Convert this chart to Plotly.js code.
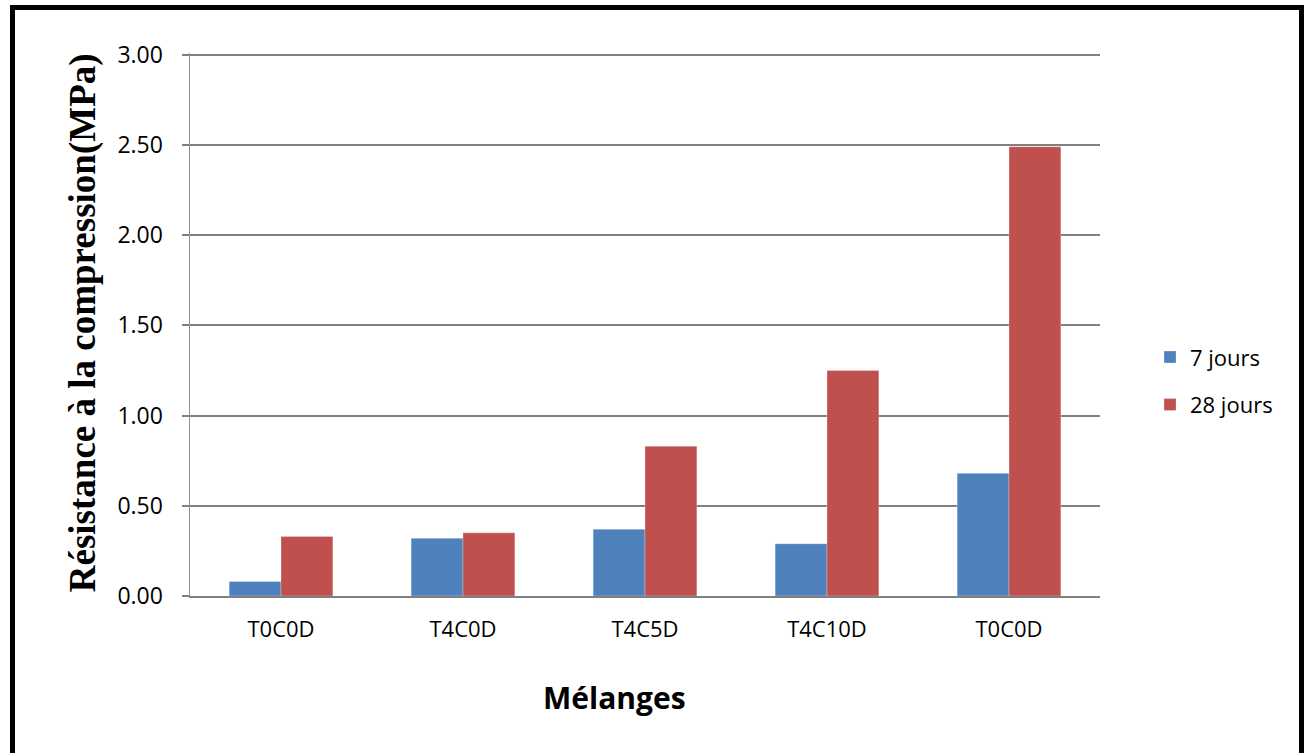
<!DOCTYPE html>
<html>
<head>
<meta charset="utf-8">
<script src="https://cdn.plot.ly/plotly-3.0.1.min.js"></script>
<style>
  html, body { margin: 0; padding: 0; background: #fff; }
  #chart { width: 1304px; height: 753px; }
</style>
</head>
<body>
<div id="chart"></div>
<script>
const categories = ["T0C0D", "T4C0D", "T4C5D", "T4C10D", "T0C0D"];
const seriesNames = ["7 jours", "28 jours"];
const jours7 = [0.08, 0.32, 0.37, 0.29, 0.68];
const jours28 = [0.33, 0.35, 0.83, 1.25, 2.49];
const yTickVals = [0, 0.5, 1, 1.5, 2, 2.5, 3];
const yTickText = ["0.00", "0.50", "1.00", "1.50", "2.00", "2.50", "3.00"];
const xTitle = "Mélanges";
const yTitle = "Résistance à la compression(MPa)";

const positions = categories.map((c, i) => i);

// plot area in pixels
const yMax = 3.01;
const pxPerUnit = (595.7 - 54.7) / 3;
const L = 190, R = 1100, B = 595.7, W = 1304, H = 753;
const T = B - yMax * pxPerUnit;
const px2x = p => (p - L) / (R - L);
const px2y = p => (B - p) / (B - T);

const traces = [
  {
    type: "bar", name: seriesNames[0], x: positions, y: jours7,
    legendgroup: "a",
    marker: { color: "#4F81BD", line: { color: "rgba(255,255,255,0.35)", width: 0.8 } },
    hoverinfo: "y"
  },
  {
    type: "bar", name: seriesNames[1], x: positions, y: jours28,
    legendgroup: "b",
    marker: { color: "#C0504D", line: { color: "rgba(255,255,255,0.35)", width: 0.8 } },
    hoverinfo: "y"
  }
];

const layout = {
  width: W, height: H,
  margin: { l: L, r: W - R, t: T, b: H - B, pad: 0 },
  paper_bgcolor: "#fff", plot_bgcolor: "#fff",
  barmode: "group", bargap: 0.43, bargroupgap: 0,
  showlegend: true,
  legend: {
    x: px2x(1150), y: px2y(336), xanchor: "left", yanchor: "top",
    font: { family: "Open Sans, sans-serif", size: 22, color: "#000" },
    traceorder: "grouped", tracegroupgap: 16,
    bgcolor: "rgba(0,0,0,0)", itemwidth: 30
  },
  xaxis: {
    range: [-0.5, categories.length - 0.5],
    tickvals: positions, ticktext: categories,
    ticks: "", showgrid: false, zeroline: false,
    showline: true, linecolor: "#808080", linewidth: 2,
    tickfont: { family: "Open Sans, sans-serif", size: 22, color: "#000" },
    ticklabelstandoff: 13,
    fixedrange: true
  },
  yaxis: {
    range: [0, yMax], tickvals: yTickVals, ticktext: yTickText,
    ticks: "outside", ticklen: 7, tickcolor: "#808080", tickwidth: 2,
    showgrid: true, gridcolor: "#808080", gridwidth: 2,
    zeroline: false,
    showline: true, linecolor: "#909090", linewidth: 1.5,
    tickfont: { family: "Open Sans, sans-serif", size: 23, color: "#000" },
    ticklabelstandoff: 14,
    fixedrange: true
  },
  annotations: [
    {
      text: "<b>" + xTitle + "</b>", xref: "paper", yref: "paper",
      x: px2x(614), y: px2y(697), xanchor: "center", yanchor: "middle",
      showarrow: false,
      font: { family: "Open Sans, sans-serif", size: 30, color: "#000" }
    },
    {
      text: "<b>" + yTitle + "</b>", xref: "paper", yref: "paper",
      x: px2x(83), y: px2y(323), xanchor: "center", yanchor: "middle",
      textangle: -90, showarrow: false,
      font: { family: "Liberation Serif, Times New Roman, serif", size: 37, color: "#000" }
    }
  ],
  shapes: [
    {
      type: "rect", xref: "paper", yref: "paper",
      x0: px2x(12.5), x1: px2x(1301.5), y0: px2y(7.5), y1: px2y(770),
      line: { color: "#000", width: 5 }, fillcolor: "rgba(0,0,0,0)", layer: "above"
    }
  ]
};

Plotly.newPlot("chart", traces, layout, { displayModeBar: false, staticPlot: true });
</script>
</body>
</html>
